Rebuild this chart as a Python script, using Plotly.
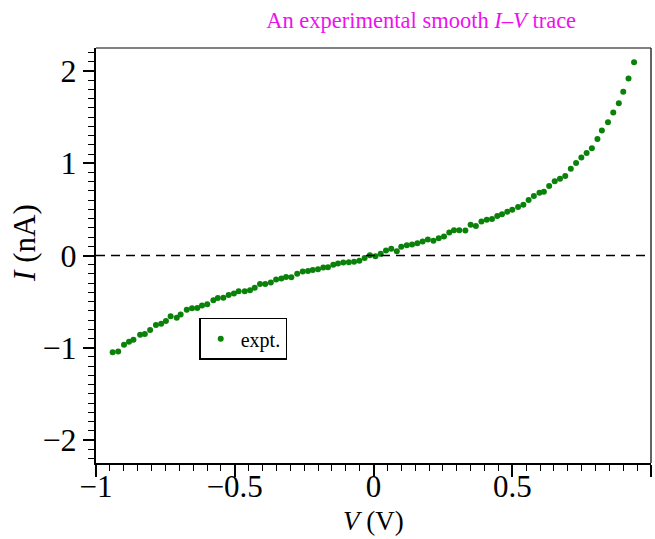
import plotly.graph_objects as go

# Data
V = [-0.940, -0.920, -0.899, -0.881, -0.865, -0.841, -0.824, -0.805, -0.784, -0.765,
     -0.748, -0.731, -0.709, -0.695, -0.673, -0.654, -0.635, -0.618, -0.599, -0.577,
     -0.561, -0.541, -0.522, -0.503, -0.486, -0.464, -0.445, -0.428, -0.409, -0.390,
     -0.370, -0.351, -0.332, -0.315, -0.296, -0.275, -0.255, -0.236, -0.219, -0.200,
     -0.181, -0.164, -0.145, -0.128, -0.109, -0.089, -0.070, -0.051, -0.032, -0.013,
     0.007, 0.026, 0.045, 0.064, 0.084, 0.100, 0.120, 0.139, 0.158, 0.177,
     0.196, 0.216, 0.235, 0.254, 0.273, 0.290, 0.309, 0.331, 0.350, 0.369,
     0.389, 0.408, 0.427, 0.446, 0.463, 0.482, 0.500, 0.521, 0.540, 0.559,
     0.578, 0.598, 0.614, 0.633, 0.653, 0.672, 0.691, 0.711, 0.730, 0.749,
     0.768, 0.787, 0.807, 0.823, 0.845, 0.864, 0.884, 0.900, 0.919, 0.939]
I = [-1.050, -1.040, -0.967, -0.935, -0.913, -0.859, -0.851, -0.808, -0.754, -0.739,
     -0.710, -0.659, -0.674, -0.641, -0.587, -0.572, -0.569, -0.543, -0.529, -0.486,
     -0.460, -0.457, -0.428, -0.413, -0.388, -0.388, -0.377, -0.351, -0.308, -0.308,
     -0.293, -0.261, -0.250, -0.232, -0.236, -0.199, -0.174, -0.167, -0.156, -0.148,
     -0.130, -0.127, -0.101, -0.087, -0.076, -0.072, -0.069, -0.058, -0.027, 0.002,
     -0.007, 0.018, 0.054, 0.072, 0.047, 0.094, 0.112, 0.120, 0.134, 0.152,
     0.174, 0.159, 0.188, 0.207, 0.250, 0.275, 0.275, 0.272, 0.333, 0.319,
     0.370, 0.388, 0.395, 0.428, 0.446, 0.475, 0.496, 0.525, 0.551, 0.601,
     0.645, 0.681, 0.692, 0.753, 0.804, 0.833, 0.862, 0.942, 1.003, 1.062,
     1.112, 1.163, 1.264, 1.355, 1.446, 1.551, 1.652, 1.775, 1.920, 2.095]

x_range = [-1, 1]
y_range = [-2.25, 2.25]
x_ticks = [-1, -0.5, 0, 0.5, 1]
x_ticklabels = ["\u22121", "\u22120.5", "0", "0.5", "1"]
y_ticks = [-2, -1, 0, 1, 2]
y_ticklabels = ["\u22122", "\u22121", "0", "1", "2"]

SERIF = "Liberation Serif, Times New Roman, serif"
GREEN = "#0a820a"

fig = go.Figure()
fig.add_trace(go.Scatter(
    x=V, y=I, mode="markers", name="expt.",
    marker=dict(symbol="circle", size=6, color=GREEN),
))
fig.add_hline(y=0, line=dict(color="black", width=1.5, dash="9px,6px"))

# gray top/right frame
fig.add_shape(type="line", xref="paper", yref="paper", x0=0, x1=1, y0=1, y1=1,
              line=dict(color="#808080", width=2))
fig.add_shape(type="line", xref="paper", yref="paper", x0=1, x1=1, y0=0, y1=1,
              line=dict(color="#303030", width=1.5))

# axis titles as annotations (precise placement)
fig.add_annotation(text="<i>V</i> (V)", xref="paper", yref="paper",
                   x=0.5, y=-0.14, xanchor="center", yanchor="middle", showarrow=False,
                   font=dict(family=SERIF, size=27, color="black"))
fig.add_annotation(text="<i>I</i> (nA)", xref="paper", yref="paper",
                   x=-0.13, y=0.53, xanchor="center", yanchor="middle", showarrow=False,
                   textangle=-90, font=dict(family=SERIF, size=31, color="black"))

fig.update_layout(
    width=655, height=539,
    margin=dict(l=96, r=4, t=48, b=76, autoexpand=False),
    paper_bgcolor="white", plot_bgcolor="white",
    title=dict(text="An experimental smooth <i>I</i>\u2013<i>V</i> trace",
               font=dict(family=SERIF, size=22.5, color="#ee11ee"),
               x=0.643, xanchor="center", y=0.962, yanchor="middle"),
    font=dict(family=SERIF, color="black"),
    legend=dict(x=0.186, y=0.35, xanchor="left", yanchor="top",
                bgcolor="white", bordercolor="black", borderwidth=1.5,
                font=dict(family=SERIF, size=20, color="black"),
                itemwidth=30, tracegroupgap=0),
    showlegend=True,
)
fig.update_xaxes(
    range=x_range, tickmode="array", tickvals=x_ticks, ticktext=x_ticklabels,
    showgrid=False, zeroline=False, showline=True, linecolor="black", linewidth=2,
    ticks="outside", ticklen=12, tickwidth=2, tickcolor="black", automargin=False,
    ticklabelstandoff=-17,
    tickfont=dict(family=SERIF, size=31, color="black"),
    minor=dict(dtick=0.05, ticks="outside", ticklen=6, tickwidth=1, tickcolor="black", showgrid=False),
)
fig.update_yaxes(
    range=y_range, tickmode="array", tickvals=y_ticks, ticktext=y_ticklabels,
    showgrid=False, zeroline=False, showline=True, linecolor="black", linewidth=2,
    ticks="outside", ticklen=11, tickwidth=2, tickcolor="black", automargin=False,
    tickfont=dict(family=SERIF, size=32, color="black"),
    minor=dict(dtick=0.1, ticks="outside", ticklen=6, tickwidth=1, tickcolor="black", showgrid=False),
)

fig.write_html("out.html")
